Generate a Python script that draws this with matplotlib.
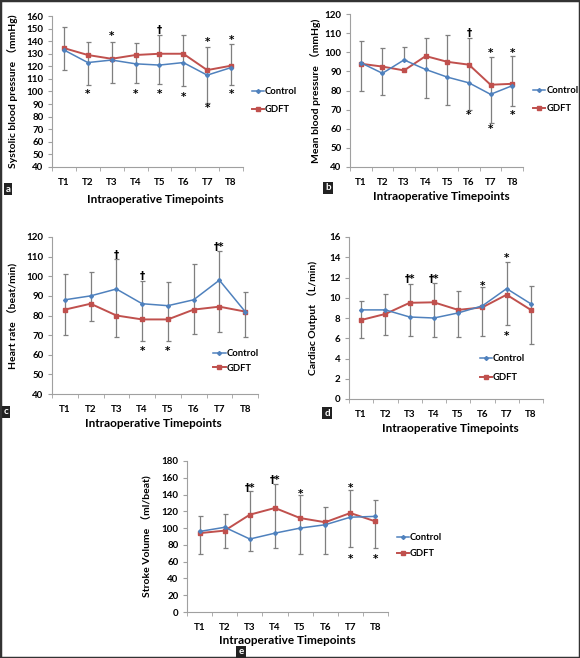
import numpy as np
import matplotlib
matplotlib.use('Agg')
import matplotlib.pyplot as plt
from matplotlib.patches import Rectangle

plt.rcParams['font.family'] = ['Lato', 'Noto Sans CJK SC', 'DejaVu Sans']
plt.rcParams['font.weight'] = 'bold'

times = ['T1', 'T2', 'T3', 'T4', 'T5', 'T6', 'T7', 'T8']

# a: systolic blood pressure
sbp_ctrl = [133, 123, 125, 122, 121, 123, 113, 119]
sbp_gdft = [134.5, 129, 126, 129, 130, 130, 117, 120.5]
sbp_hi = [151, 139.5, 139.5, 138.5, 145, 145, 135, 138]
sbp_lo = [117, 105, 107, 107, 106, 104, 91, 105]
sbp_top = [(3, 144, '*'), (5, 149, '†'), (7, 139, '*'), (8, 141, '*')]
sbp_bot = [(2, 98, '*'), (4, 98, '*'), (5, 98, '*'), (6, 96, '*'), (7, 87, '*'), (8, 98, '*')]

# b: mean blood pressure
mbp_ctrl = [94.5, 89, 96, 91, 87, 84, 78, 82.5]
mbp_gdft = [94, 92.5, 90.5, 98, 95, 93.5, 83, 83.5]
mbp_hi = [106, 102, 103, 107.5, 109, 107.5, 97.5, 98]
mbp_lo = [80, 77.5, 96, 76, 72.5, 70, 63, 72]
mbp_top = [(6, 110, '†'), (7, 99.5, '*'), (8, 99.5, '*')]
mbp_bot = [(6, 67, '*'), (7, 60, '*'), (8, 67, '*')]

# c: heart rate
hr_ctrl = [88, 90, 93.5, 86, 85, 88, 98, 82]
hr_gdft = [83, 86, 80, 78, 78, 83, 84.5, 82]
hr_hi = [101, 102, 109, 97.5, 97, 106, 113, 92]
hr_lo = [70, 77, 69, 67, 67, 70.5, 71.5, 69]
hr_top = [(3, 111, '†'), (4, 100, '†'), (7, 115, '†*')]
hr_bot = [(4, 62, '*'), (5, 62, '*')]

# d: cardiac output
co_ctrl = [8.8, 8.8, 8.1, 8.0, 8.5, 9.2, 10.9, 9.4]
co_gdft = [7.8, 8.4, 9.5, 9.55, 8.8, 9.05, 10.3, 8.8]
co_hi = [9.7, 10.4, 11.4, 11.5, 10.7, 11.1, 13.5, 11.2]
co_lo = [6.0, 6.3, 6.2, 6.1, 6.1, 6.2, 7.3, 5.4]
co_top = [(3, 11.9, '†*'), (4, 11.9, '†*'), (6, 11.2, '*'), (7, 13.9, '*')]
co_bot = [(7, 6.2, '*')]

# e: stroke volume
sv_ctrl = [96, 101, 87, 94, 100, 104, 113, 114]
sv_gdft = [94, 97, 116, 124, 112, 107, 118, 108]
sv_hi = [114.5, 117, 144, 153, 139, 125, 146, 134]
sv_lo = [69, 76.5, 73, 76.5, 69, 69, 78, 76.5]
sv_top = [(3, 148, '†*'), (4, 157, '†*'), (5, 141, '*'), (7, 148, '*')]
sv_bot = [(7, 63, '*'), (8, 63, '*')]

blue = '#4f81bd'
red = '#c0504d'
W, H = 580, 658


def panel(fig, box, ctrl, gdft, hi, lo, top, bot, ylim, yticks, ylabel,
          ylab_x, xlab, leg, legsp):
    l, r, t, b = box
    ax = fig.add_axes([l / W, 1 - b / H, (r - l) / W, (b - t) / H])
    x = np.arange(1, 9)
    ctrl = np.array(ctrl)
    err = [ctrl - np.array(lo), np.array(hi) - ctrl]
    ax.errorbar(x, ctrl, yerr=err, fmt='none', ecolor='#7f7f7f',
                elinewidth=0.9, capsize=1.8, capthick=0.9, zorder=1)
    ax.plot(x, ctrl, color=blue, lw=1.1, marker='D', ms=2, label='Control', zorder=3)
    ax.plot(x, gdft, color=red, lw=1.4, marker='s', ms=3.5, label='GDFT', zorder=2)
    for xi, yi, s in top + bot:
        ax.text(xi, yi, s, ha='center', va='center', fontsize=7.5,
                fontweight='bold', family=['DejaVu Sans'])
    ax.set_xlim(0.5, 8.5)
    ax.set_ylim(*ylim)
    ax.set_yticks(yticks)
    ax.set_xticks(x)
    ax.set_xticklabels(times)
    ax.set_xticks(np.arange(0.5, 9, 1), minor=True)
    ax.tick_params(axis='x', which='major', length=0, pad=8, labelsize=7)
    ax.tick_params(axis='x', which='minor', length=3, color='#a0a0a0', direction='out')
    ax.tick_params(axis='y', length=3, color='#a0a0a0', labelsize=7, pad=3)
    for s in ['top', 'right']:
        ax.spines[s].set_visible(False)
    for s in ['left', 'bottom']:
        ax.spines[s].set_color('#a0a0a0')
        ax.spines[s].set_linewidth(0.8)
    ax.set_ylabel(ylabel, fontsize=7.5, fontweight='bold')
    ax.yaxis.set_label_coords(ylab_x, 0.5)
    ax.set_xlabel('Intraoperative Timepoints', fontsize=8.5, fontweight='bold')
    ax.xaxis.set_label_coords(*xlab)
    ax.legend(loc='center left', bbox_to_anchor=leg, frameon=False,
              fontsize=6.8, handlelength=1.3, handletextpad=0.1,
              labelspacing=legsp, borderpad=0)
    return ax


fig = plt.figure(figsize=(5.8, 6.58), dpi=100)

panel(fig, (52, 243, 16, 167), sbp_ctrl, sbp_gdft, sbp_hi, sbp_lo, sbp_top, sbp_bot,
      (40, 160), np.arange(40, 161, 10), 'Systolic blood pressure （mmHg)',
      -0.18, (0.54, -0.18), (1.02, 0.44), 0.9)
panel(fig, (350, 523, 14, 167), mbp_ctrl, mbp_gdft, mbp_hi, mbp_lo, mbp_top, mbp_bot,
      (40, 120), np.arange(40, 121, 10), 'Mean blood pressure （mmHg)',
      -0.17, (0.53, -0.16), (1.03, 0.44), 0.9)
panel(fig, (52, 258, 237, 394), hr_ctrl, hr_gdft, hr_hi, hr_lo, hr_top, hr_bot,
      (40, 120), np.arange(40, 121, 10), 'Heart rate （beat/min)',
      -0.165, (0.49, -0.15), (0.76, 0.21), 0.55)
panel(fig, (349, 543, 237, 399), co_ctrl, co_gdft, co_hi, co_lo, co_top, co_bot,
      (0, 16), np.arange(0, 17, 2), 'Cardiac Output （L/min)',
      -0.16, (0.52, -0.15), (0.65, 0.19), 1.05)
panel(fig, (187, 388, 461, 612), sv_ctrl, sv_gdft, sv_hi, sv_lo, sv_top, sv_bot,
      (0, 180), np.arange(0, 181, 20), 'Stroke Volume （ml/beat)',
      -0.17, (0.5, -0.15), (1.02, 0.44), 0.7)

# panel letters
for letter, (px, py) in zip('abcde', [(8, 189), (328, 188), (6, 412), (327, 413), (241, 652)]):
    fig.text(px / W, 1 - py / H, letter, color='white', fontsize=7, ha='center', va='center',
             bbox=dict(boxstyle='square,pad=0.2', fc='#222222', ec='none'))

fig.patches.append(Rectangle((0, 0), 1, 1, transform=fig.transFigure, fill=False,
                             ec='#333333', lw=2.5))

fig.savefig('out.png', dpi=100)
